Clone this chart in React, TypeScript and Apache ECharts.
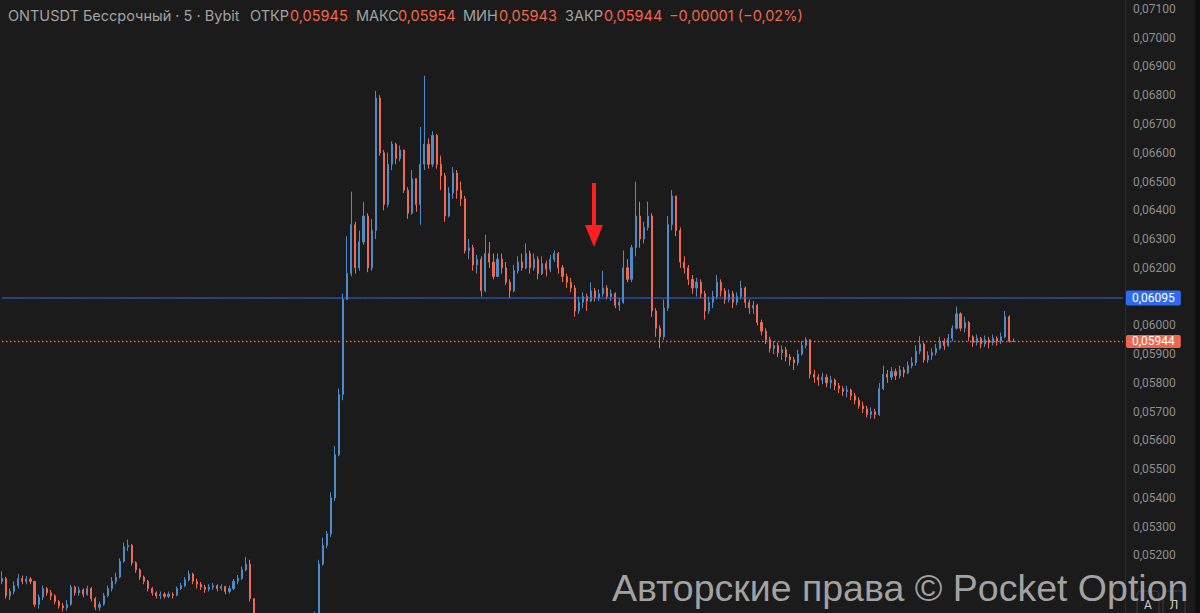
import React, { useEffect, useRef } from "react";
import * as echarts from "echarts";

// Prices in units of 0.00001 USDT (5-minute candles, ONTUSDT perpetual, Bybit)
const firstOpen = 5110;

const closes = [
  5120, 5060, 5075, 5095, 5120, 5110, 5118, 5110, 5030, 5055,
  5085, 5070, 5060, 5040, 5025, 5018, 5030, 5090, 5070, 5080,
  5065, 5085, 5050, 5020, 5030, 5060, 5085, 5110, 5125, 5180,
  5230, 5235, 5175, 5150, 5125, 5110, 5085, 5070, 5060, 5065,
  5058, 5065, 5062, 5085, 5095, 5115, 5135, 5110, 5100, 5090,
  5082, 5090, 5095, 5085, 5092, 5075, 5085, 5110, 5120, 5150,
  5170, 5050, 4985, 4960, 4940, 4950, 4930, 4945, 4920, 4935,
  4950, 4940, 4955, 4965, 4960, 4975, 4985, 4995, 5170, 5235,
  5275, 5400, 5550, 5760, 6090, 6180, 6350, 6200, 6290, 6380,
  6200, 6330, 6790, 6600, 6420, 6560, 6630, 6580, 6610, 6470,
  6390, 6510, 6420, 6560, 6630, 6560, 6660, 6560, 6520, 6380,
  6460, 6530, 6470, 6440, 6260, 6270, 6210, 6230, 6120, 6250,
  6220, 6170, 6230, 6200, 6150, 6120, 6190, 6220, 6200, 6250,
  6200, 6230, 6180, 6215, 6195, 6230, 6250, 6200, 6170, 6150,
  6130, 6050, 6080, 6100, 6085, 6120, 6095, 6110, 6130, 6100,
  6110, 6070, 6080, 6200, 6160, 6270, 6380, 6300, 6340, 6380,
  6050, 5990, 5960, 6060, 6350, 6450, 6330, 6220, 6200, 6160,
  6130, 6150, 6110, 6050, 6080, 6100, 6150, 6120, 6090, 6110,
  6080, 6100, 6130, 6080, 6060, 6070, 6010, 5980, 5950, 5920,
  5930, 5905, 5915, 5890, 5880, 5870, 5900, 5930, 5950, 5830,
  5820, 5810, 5820, 5800, 5810, 5790, 5780, 5770, 5775, 5755,
  5740, 5720, 5710, 5690, 5700, 5690, 5780, 5830, 5820, 5840,
  5825, 5845, 5835, 5860, 5870, 5910, 5935, 5880, 5895, 5905,
  5920, 5945, 5930, 5955, 5990, 6040, 5990, 6010, 5960, 5940,
  5955, 5935, 5950, 5940, 5955, 5945, 5960, 6030, 5945, 5944,
];

const highs = [
  5145, 5125, 5085, 5110, 5135, 5130, 5128, 5125, 5110, 5065,
  5095, 5090, 5080, 5065, 5045, 5035, 5045, 5098, 5095, 5092,
  5085, 5095, 5090, 5055, 5040, 5070, 5095, 5125, 5140, 5190,
  5245, 5255, 5240, 5180, 5155, 5130, 5115, 5090, 5075, 5075,
  5072, 5075, 5072, 5092, 5105, 5125, 5148, 5140, 5120, 5108,
  5098, 5100, 5105, 5100, 5100, 5095, 5095, 5118, 5132, 5162,
  5195, 5185, 5050, 4990, 4970, 4965, 4960, 4960, 4950, 4950,
  4965, 4960, 4970, 4980, 4975, 4990, 4995, 5005, 5185, 5262,
  5285, 5420, 5580, 5780, 6110, 6310, 6465, 6360, 6330, 6430,
  6390, 6370, 6815, 6800, 6610, 6600, 6640, 6635, 6625, 6600,
  6480, 6540, 6510, 6690, 6868, 6650, 6675, 6665, 6590, 6530,
  6480, 6550, 6540, 6500, 6450, 6300, 6280, 6245, 6240, 6315,
  6290, 6250, 6250, 6250, 6220, 6160, 6210, 6240, 6250, 6285,
  6260, 6250, 6240, 6240, 6225, 6245, 6260, 6255, 6210, 6180,
  6165, 6140, 6100, 6115, 6110, 6150, 6130, 6125, 6190, 6140,
  6125, 6115, 6095, 6260, 6230, 6280, 6500, 6430, 6360, 6430,
  6390, 6060, 6000, 6090, 6380, 6470, 6440, 6340, 6240, 6210,
  6175, 6165, 6160, 6120, 6100, 6120, 6175, 6160, 6130, 6125,
  6120, 6115, 6155, 6135, 6090, 6085, 6075, 6020, 5990, 5960,
  5945, 5940, 5930, 5925, 5900, 5890, 5915, 5945, 5958, 5950,
  5845, 5830, 5835, 5830, 5825, 5815, 5800, 5790, 5790, 5780,
  5765, 5750, 5735, 5720, 5715, 5710, 5800, 5860, 5845, 5855,
  5850, 5860, 5855, 5875, 5890, 5930, 5962, 5940, 5910, 5920,
  5935, 5960, 5955, 5970, 6000, 6065, 6045, 6030, 6015, 5965,
  5968, 5960, 5965, 5960, 5968, 5962, 5975, 6050, 6035, 5954,
];

const lows = [
  5100, 5050, 5045, 5065, 5085, 5100, 5100, 5100, 5020, 5015,
  5045, 5060, 5045, 5030, 5015, 5005, 5008, 5025, 5060, 5060,
  5055, 5060, 5040, 5010, 5008, 5025, 5055, 5075, 5100, 5120,
  5175, 5215, 5165, 5140, 5115, 5100, 5075, 5060, 5050, 5048,
  5050, 5052, 5050, 5058, 5080, 5090, 5110, 5100, 5085, 5080,
  5070, 5075, 5080, 5075, 5078, 5065, 5068, 5080, 5100, 5115,
  5145, 5040, 4970, 4945, 4925, 4935, 4915, 4925, 4905, 4915,
  4930, 4925, 4935, 4950, 4945, 4955, 4970, 4980, 4990, 5165,
  5225, 5265, 5390, 5545, 5740, 6090, 6170, 6180, 6190, 6280,
  6185, 6190, 6300, 6590, 6400, 6410, 6540, 6560, 6570, 6460,
  6370, 6385, 6395, 6350, 6540, 6545, 6550, 6545, 6470, 6360,
  6375, 6440, 6440, 6415, 6250, 6230, 6190, 6180, 6100, 6115,
  6200, 6160, 6170, 6180, 6140, 6095, 6115, 6180, 6190, 6195,
  6180, 6190, 6160, 6175, 6170, 6185, 6220, 6180, 6150, 6130,
  6115, 6030, 6040, 6060, 6050, 6080, 6083, 6085, 6100, 6090,
  6085, 6060, 6050, 6075, 6150, 6150, 6240, 6270, 6285, 6330,
  6030, 5960, 5920, 5950, 6050, 6330, 6310, 6200, 6180, 6140,
  6110, 6100, 6095, 6020, 6040, 6060, 6090, 6100, 6075, 6080,
  6060, 6070, 6090, 6060, 6040, 6040, 6000, 5965, 5935, 5905,
  5900, 5890, 5880, 5875, 5860, 5845, 5860, 5895, 5920, 5815,
  5800, 5790, 5795, 5785, 5780, 5775, 5765, 5755, 5750, 5740,
  5725, 5710, 5695, 5680, 5675, 5675, 5685, 5775, 5800, 5810,
  5810, 5815, 5820, 5830, 5850, 5860, 5900, 5870, 5870, 5880,
  5895, 5915, 5915, 5925, 5945, 5985, 5980, 5975, 5945, 5925,
  5930, 5920, 5925, 5920, 5930, 5930, 5935, 5955, 5940, 5943,
];

const futureSlots = 27;
const markedLevel = 6095; // blue horizontal level
const axisMin = 0.05;
const axisMax = 0.071311;
const axisInterval = 0.001;
const lowestShownLabel = 0.052; // labels below sit under the toolbar/watermark

const UP = "#4f8bc9";
const DOWN = "#ef6a50";
const BLUE_LINE = "#2e6bf0";
const LAST_COLOR = "#f0674e";
const BG = "#1b1b1b";

const fmt5 = (v: number) => v.toFixed(5).replace(".", ",");
const minus = (s: string) => s.replace("-", "\u2212");

export default function App() {
  const ref = useRef<HTMLDivElement>(null);

  useEffect(() => {
    document.body.style.margin = "0";
    document.body.style.background = BG;
    document.body.style.overflow = "hidden";
    if (!ref.current) return;
    const chart = echarts.init(ref.current, undefined, { renderer: "svg" });

    const ohlc = closes.map((c, i) => {
      const o = i === 0 ? firstOpen : closes[i - 1];
      const h = Math.max(highs[i], o, c);
      const l = Math.min(lows[i], o, c);
      return [o / 1e5, c / 1e5, l / 1e5, h / 1e5];
    });
    const categories = closes
      .map((_, i) => `c${i}`)
      .concat(Array.from({ length: futureSlots }, (_, k) => `f${k}`));

    const last = ohlc[ohlc.length - 1];
    const [lo, lc, ll, lh] = last;
    const chg = lc - lo;
    const pct = (chg / lo) * 100;
    const chgText =
      minus(chg.toFixed(5).replace(".", ",")) +
      " (" +
      minus(pct.toFixed(2).replace(".", ",")) +
      "%)";

    const LF = "Inter";
    const legendParts: [string, number, string][] = [
      ["ONTUSDT Бессрочный · 5 · Bybit", 8, "#a2a2a2"],
      ["ОТКР", 250, "#a2a2a2"],
      [fmt5(lo), 290, LAST_COLOR],
      ["МАКС", 356, "#a2a2a2"],
      [fmt5(lh), 398, LAST_COLOR],
      ["МИН", 463, "#a2a2a2"],
      [fmt5(ll), 499, LAST_COLOR],
      ["ЗАКР", 565, "#a2a2a2"],
      [fmt5(lc), 604, LAST_COLOR],
      [chgText, 669, LAST_COLOR],
    ];

    const levelLine = (value: number, color: string, type: any, width: number, labelPad: number[]) => ({
      type: "line",
      data: categories.map(() => value),
      symbol: "none",
      silent: true,
      z: 3,
      lineStyle: { color, width, type, opacity: 1 },
      endLabel: {
        show: true,
        distance: 3,
        formatter: () => fmt5(value),
        color: "#ffffff",
        backgroundColor: color,
        borderRadius: 2,
        padding: labelPad,
        fontSize: 12,
        fontFamily: "Roboto",
      },
    });

    chart.setOption({
      animation: false,
      backgroundColor: BG,
      grid: { left: 0, right: 75, top: 0, bottom: -3.5 },
      xAxis: {
        type: "category",
        data: categories,
        show: false,
      },
      yAxis: {
        type: "value",
        position: "right",
        min: axisMin,
        max: axisMax,
        interval: axisInterval,
        splitLine: { show: false },
        axisTick: { show: false },
        axisLine: { show: true, lineStyle: { color: "#2c2c2c", width: 1 } },
        axisLabel: {
          color: "#8e8e8e",
          fontSize: 12,
          fontFamily: "Roboto",
          margin: 8,
          showMaxLabel: false,
          showMinLabel: false,
          formatter: (v: number) =>
            Math.abs(v * 1000 - Math.round(v * 1000)) < 1e-6 && v >= lowestShownLabel - 1e-9
              ? fmt5(v)
              : "",
        },
      },
      series: [
        {
          type: "candlestick",
          data: ohlc,
          barWidth: 1.6,
          z: 2,
          itemStyle: {
            color: UP,
            color0: DOWN,
            borderColor: UP,
            borderColor0: DOWN,
            borderWidth: 1,
          },
        },
        levelLine(markedLevel / 1e5, BLUE_LINE, "solid", 1, [2, 6, 1, 6]),
        levelLine(lc, LAST_COLOR, [1.5, 2.5], 1.5, [1, 6, 0, 6]),
      ],
      graphic: [
        ...legendParts.map(([text, x, fill]) => ({
          type: "text",
          x,
          y: 15,
          z: 100,
          style: {
            text,
            fill,
            fontSize: 14.5,
            fontFamily: LF,
            align: "left",
            verticalAlign: "middle",
          },
        })),
        {
          type: "rect",
          z: 100,
          shape: { x: 592, y: 183, width: 4, height: 43 },
          style: { fill: "#ff1f1f" },
        },
        {
          type: "polygon",
          z: 100,
          shape: { points: [[585, 225], [603, 225], [594, 247]] },
          style: { fill: "#ff1f1f" },
        },
        {
          type: "rect",
          z: 90,
          shape: { x: 1137, y: 591, width: 22, height: 28, r: 4 },
          style: { fill: BG, stroke: "#3e3e3e", lineWidth: 1 },
        },
        {
          type: "rect",
          z: 90,
          shape: { x: 1163, y: 591, width: 22, height: 28, r: 4 },
          style: { fill: BG, stroke: "#3e3e3e", lineWidth: 1 },
        },
        {
          type: "text",
          z: 91,
          x: 1148,
          y: 605,
          style: { text: "А", fill: "#d0d0d0", fontSize: 12, fontFamily: "Roboto", align: "center", verticalAlign: "middle" },
        },
        {
          type: "text",
          z: 91,
          x: 1174,
          y: 605,
          style: { text: "Л", fill: "#d0d0d0", fontSize: 12, fontFamily: "Roboto", align: "center", verticalAlign: "middle" },
        },
        {
          type: "text",
          z: 110,
          x: 612,
          y: 588,
          style: {
            text: "Авторские права © Pocket Option",
            fill: "#acacac",
            opacity: 0.95,
            fontSize: 37.5,
            fontFamily: "Liberation Sans",
            align: "left",
            verticalAlign: "middle",
          },
        },
        {
          type: "rect",
          z: 120,
          shape: { x: 1195, y: 0, width: 5, height: 613 },
          style: { fill: "#0f0f0f" },
        },
      ],
    });

    return () => chart.dispose();
  }, []);

  return <div ref={ref} style={{ width: 1200, height: 613 }} />;
}
